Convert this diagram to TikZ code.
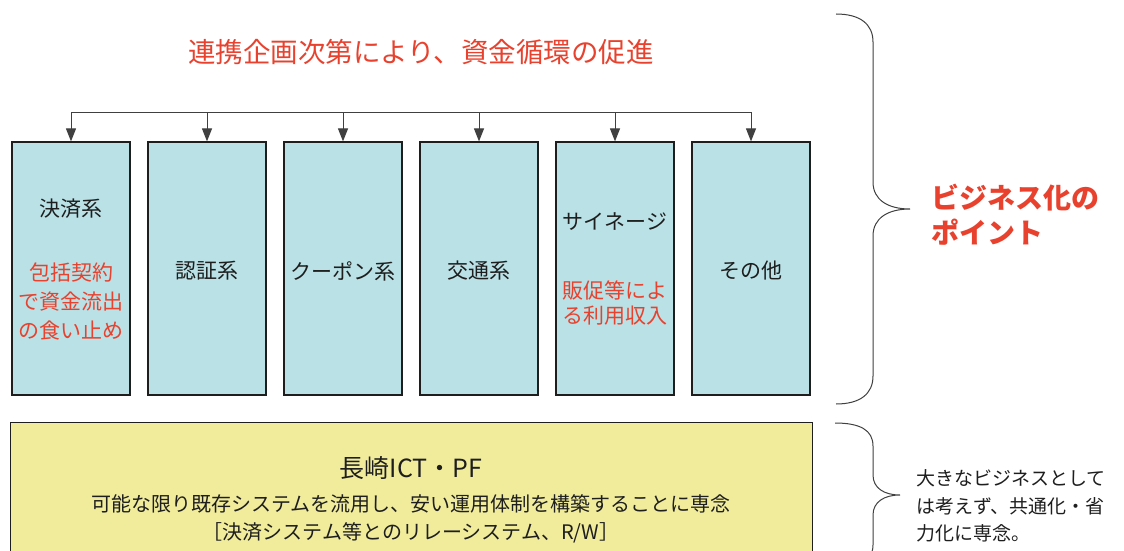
\documentclass[tikz,border=0pt]{standalone}
\usepackage{fontspec}
\setmainfont{Noto Sans CJK JP}
\usetikzlibrary{arrows.meta}
\definecolor{boxblue}{RGB}{185,225,230}
\definecolor{boxyellow}{RGB}{240,236,155}
\definecolor{accred}{RGB}{232,66,46}
\definecolor{ink}{RGB}{30,30,30}
\begin{document}
\begin{tikzpicture}[x=1pt,y=-1pt,
  catbox/.style={draw=ink, line width=1.2pt, fill=boxblue, minimum width=118pt, minimum height=253pt, inner sep=0pt},
  lbl/.style={font=\fontsize{21}{24}\selectfont, text=ink, inner sep=0pt},
  redlbl/.style={font=\fontsize{21}{24}\selectfont, text=accred, inner sep=0pt},
  feed/.style={draw=ink!85, line width=1pt},
  arr/.style={feed, -{Triangle[length=13pt,width=10pt]}},
  brace/.style={draw=ink!85, line width=1pt}]
\clip (0,0) rectangle (1124,551);
\fill[white] (0,0) rectangle (1124,551);
% title
\node[font=\fontsize{27.5}{32}\selectfont, text=accred, inner sep=0pt] (title) at (421,52) {連携企画次第により、資金循環の促進};
% category boxes
\node[catbox] (b1) at (71,268.5) {};
\node[catbox] (b2) at (207,268.5) {};
\node[catbox] (b3) at (343,268.5) {};
\node[catbox] (b4) at (479,268.5) {};
\node[catbox] (b5) at (615,268.5) {};
\node[catbox] (b6) at (751,268.5) {};
% distribution line
\coordinate (t1) at (71,112);
\coordinate (t2) at (207,112);
\coordinate (t3) at (343,112);
\coordinate (t4) at (479,112);
\coordinate (t5) at (615,112);
\coordinate (t6) at (751,112);
\draw[feed] (t1) -- (t6);
\foreach \i in {1,...,6} { \draw[arr] (t\i) -- (b\i.north); }
% box texts
\node[lbl] (b1a) at (71,209) {決済系};
\node[redlbl] (b1b) at (71,272) {包括契約};
\node[redlbl] (b1c) at (71,302) {で資金流出};
\node[redlbl] (b1d) at (71,331) {の食い止め};
\node[lbl] (b2a) at (207,271) {認証系};
\node[lbl] (b3a) at (343,271) {クーポン系};
\node[lbl] (b4a) at (479,271) {交通系};
\node[lbl] (b5a) at (615,222) {サイネージ};
\node[redlbl] (b5b) at (615,290) {販促等によ};
\node[redlbl] (b5c) at (615,316) {る利用収入};
\node[lbl] (b6a) at (751,271) {その他};
% platform box
\node[draw=ink, line width=1.2pt, fill=boxyellow, minimum width=802pt, minimum height=160pt, anchor=north west, inner sep=0pt] (pf) at (10,422) {};
\node[font=\fontsize{25}{28}\selectfont, text=ink, inner sep=0pt] (pft) at (411,468) {長崎ICT・PF};
\node[font=\fontsize{20}{24}\selectfont, text=ink, inner sep=0pt] (pf1) at (411,504) {可能な限り既存システムを流用し、安い運用体制を構築することに専念};
\node[font=\fontsize{20}{24}\selectfont, text=ink, inner sep=0pt] (pf2) at (411,533) {［決済システム等とのリレーシステム、R/W］};
% upper brace
\draw[brace] (836,14) .. controls (860,14) and (873,24) .. (873,42) -- (873,182)
  .. controls (873,200) and (888,209) .. (910,209)
  .. controls (888,209) and (873,218) .. (873,236) -- (873,376)
  .. controls (873,394) and (860,404) .. (836,404);
\node[font=\fontsize{28}{34}\selectfont\bfseries, text=accred, inner sep=0pt, anchor=west] (bp1) at (931,198) {ビジネス化の};
\node[font=\fontsize{28}{34}\selectfont\bfseries, text=accred, inner sep=0pt, anchor=west] (bp2) at (931,232) {ポイント};
% lower brace
\draw[brace] (835,423) .. controls (860,423) and (873,430) .. (873,446) -- (873,475)
  .. controls (873,488) and (884,495) .. (900,495)
  .. controls (884,495) and (873,502) .. (873,515) -- (873,545)
  .. controls (873,560) and (860,567) .. (835,567);
\node[font=\fontsize{19}{23}\selectfont, text=ink, inner sep=0pt, anchor=west] (r1) at (916,478) {大きなビジネスとして};
\node[font=\fontsize{19}{23}\selectfont, text=ink, inner sep=0pt, anchor=west] (r2) at (916,506) {は考えず、共通化・省};
\node[font=\fontsize{19}{23}\selectfont, text=ink, inner sep=0pt, anchor=west] (r3) at (916,533) {力化に専念。};
\end{tikzpicture}
\end{document}
